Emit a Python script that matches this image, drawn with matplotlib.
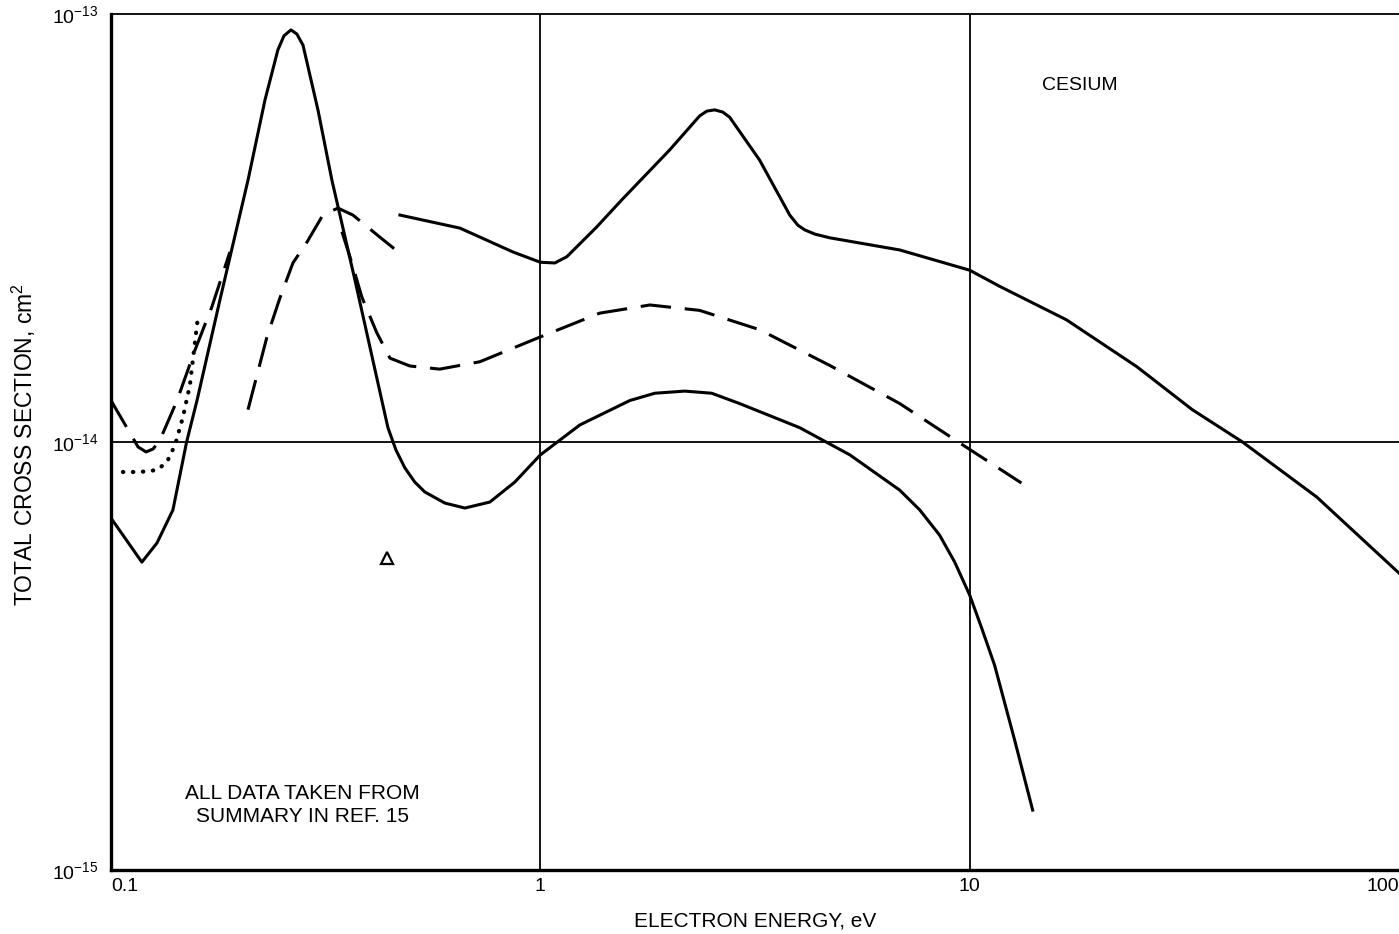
import numpy as np
import matplotlib.pyplot as plt

plt.rcParams['font.family'] = ['Liberation Sans', 'DejaVu Sans']
plt.rcParams['mathtext.fontset'] = 'custom'
plt.rcParams['mathtext.rm'] = 'Liberation Sans'
plt.rcParams['mathtext.it'] = 'Liberation Sans:italic'

########## data (energy in eV, cross section in cm^2) ##########

# solid curve with the big peak near 0.26 eV
solid_low_E = [0.1, 0.118, 0.128, 0.1394, 0.150, 0.1586, 0.1794, 0.2085, 0.2284, 0.2447,
               0.2528, 0.2625, 0.2709, 0.280, 0.3034, 0.327, 0.370, 0.4416, 0.461, 0.4836,
               0.510, 0.5384, 0.5993, 0.667, 0.763, 0.872, 1.0, 1.236, 1.616, 1.848,
               2.17, 2.507, 2.91, 4.02, 5.26, 6.87, 7.65, 8.51, 9.23, 10.0,
               10.67, 11.43, 12.73, 14.02]
solid_low_Q = [6.64e-15, 5.24e-15, 5.81e-15, 6.94e-15, 1.0e-14, 1.25e-14, 2.15e-14, 4.09e-14, 6.30e-14, 8.24e-14,
               8.89e-14, 9.18e-14, 8.98e-14, 8.46e-14, 5.97e-14, 4.09e-14, 2.39e-14, 1.08e-14, 9.58e-15, 8.70e-15,
               8.06e-15, 7.64e-15, 7.20e-15, 7.01e-15, 7.24e-15, 8.06e-15, 9.33e-15, 1.096e-14, 1.25e-14, 1.30e-14,
               1.315e-14, 1.30e-14, 1.23e-14, 1.08e-14, 9.33e-15, 7.72e-15, 6.94e-15, 6.06e-15, 5.24e-15, 4.39e-15,
               3.67e-15, 3.01e-15, 2.01e-15, 1.38e-15]

# upper solid curve, 0.47 eV to 100 eV
solid_high_E = [0.471, 0.650, 0.863, 1.0, 1.081, 1.153, 1.353, 1.548, 2.00, 2.35,
                2.442, 2.548, 2.66, 2.76, 3.24, 3.81, 3.98, 4.13, 4.36, 4.72,
                6.87, 10.0, 11.75, 16.8, 24.5, 33.0, 43.2, 64.3, 100.0]
solid_high_Q = [3.39e-14, 3.16e-14, 2.78e-14, 2.63e-14, 2.62e-14, 2.71e-14, 3.18e-14, 3.68e-14, 4.81e-14, 5.78e-14,
                5.93e-14, 5.97e-14, 5.90e-14, 5.74e-14, 4.56e-14, 3.39e-14, 3.21e-14, 3.13e-14, 3.06e-14, 3.00e-14,
                2.81e-14, 2.52e-14, 2.31e-14, 1.93e-14, 1.50e-14, 1.19e-14, 1.0e-14, 7.44e-15, 4.94e-15]

# short dashed curve at the left edge
dash_left_E = [0.1, 0.1107, 0.1156, 0.1207, 0.1253, 0.130, 0.1425, 0.1569, 0.1718, 0.1892]
dash_left_Q = [1.25e-14, 1.05e-14, 9.74e-15, 9.48e-15, 9.63e-15, 1.01e-14, 1.25e-14, 1.64e-14, 2.07e-14, 2.78e-14]

# dotted curve
dot_E = [0.1066, 0.1168, 0.128, 0.135, 0.141, 0.1471, 0.1527, 0.1595]
dot_Q = [8.51e-15, 8.51e-15, 8.60e-15, 8.98e-15, 9.84e-15, 1.144e-14, 1.36e-14, 1.97e-14]

# dashed hump near 0.34 eV
dash_mid_E = [0.2085, 0.2308, 0.2474, 0.2653, 0.286, 0.3115, 0.3377, 0.366, 0.423, 0.471]
dash_mid_Q = [1.19e-14, 1.76e-14, 2.17e-14, 2.62e-14, 2.93e-14, 3.39e-14, 3.52e-14, 3.39e-14, 3.01e-14, 2.76e-14]

# long dashed curve, 0.35 eV to 13 eV
dash_long_E = [0.345, 0.364, 0.384, 0.416, 0.4464, 0.497, 0.583, 0.723, 1.0, 1.375,
               1.80, 2.35, 3.24, 4.72, 6.87, 9.48, 13.2]
dash_long_Q = [3.10e-14, 2.62e-14, 2.18e-14, 1.80e-14, 1.57e-14, 1.505e-14, 1.48e-14, 1.54e-14, 1.76e-14, 2.00e-14,
               2.09e-14, 2.03e-14, 1.83e-14, 1.51e-14, 1.23e-14, 9.95e-15, 8.02e-15]

# single triangle point
tri_E = [0.44]
tri_Q = [5.36e-15]

x_ticks = [0.1, 1, 10, 100]
x_ticklabels = ['0.1', '1', '10', '100']
y_ticks = [1e-15, 1e-14, 1e-13]
y_ticklabels = ['10$^{-15}$', '10$^{-14}$', '10$^{-13}$']

########## plotting ##########

fig = plt.figure(figsize=(13.99, 9.34), dpi=100)
ax = fig.add_axes([111/1399, 64/934, 1288/1399, 856/934])

lw = 2.2
ax.plot(solid_low_E, solid_low_Q, color='k', lw=lw, solid_joinstyle='round')
ax.plot(solid_high_E, solid_high_Q, color='k', lw=lw, solid_joinstyle='round')
ax.plot(dash_left_E, dash_left_Q, color='k', lw=lw, dashes=(10, 4.5))
ax.plot(dot_E, dot_Q, color='k', lw=3, linestyle=(0, (0.1, 2.3)), dash_capstyle='round')
ax.plot(dash_mid_E, dash_mid_Q, color='k', lw=lw, dashes=(10, 4.5))
ax.plot(dash_long_E, dash_long_Q, color='k', lw=lw, dashes=(10, 4.5))
ax.plot(tri_E, tri_Q, linestyle='none', marker='^', ms=8, mfc='white', mec='k', mew=1.6)

ax.set_xscale('log')
ax.set_yscale('log')
ax.set_xlim(0.1, 100)
ax.set_ylim(1e-15, 1e-13)

ax.set_xticks(x_ticks)
ax.set_xticklabels(x_ticklabels, fontsize=14)
ax.set_yticks(y_ticks)
ax.set_yticklabels(y_ticklabels, fontsize=14)
ax.minorticks_off()
ax.tick_params(axis='x', length=0, pad=6)
ax.tick_params(axis='y', length=0, pad=9)
ax.get_xticklabels()[0].set_horizontalalignment('left')
ax.get_xticklabels()[-1].set_horizontalalignment('right')

# grid lines only at the decades inside the box
for xv in [1, 10]:
    ax.axvline(xv, color='k', lw=1.3)
ax.axhline(1e-14, color='k', lw=1.3)

ax.spines['right'].set_visible(False)
ax.spines['left'].set_linewidth(2.4)
ax.spines['bottom'].set_linewidth(2.4)
ax.spines['top'].set_linewidth(1.3)

ax.text(1080/1399, 1-85/934, 'CESIUM', transform=fig.transFigure, fontsize=14, ha='center', va='center')
ax.text(302/1399, 1-805/934, 'ALL DATA TAKEN FROM\nSUMMARY IN REF. 15', transform=fig.transFigure,
        fontsize=15, ha='center', va='center', linespacing=1.3)

fig.text(755/1399, 1-921/934, 'ELECTRON ENERGY, eV', fontsize=15, ha='center', va='center')
fig.text(24/1399, 1-445/934, 'TOTAL CROSS SECTION, cm$^2$', fontsize=16.5, ha='center', va='center', rotation=90)

plt.savefig('out.png', dpi=100)
